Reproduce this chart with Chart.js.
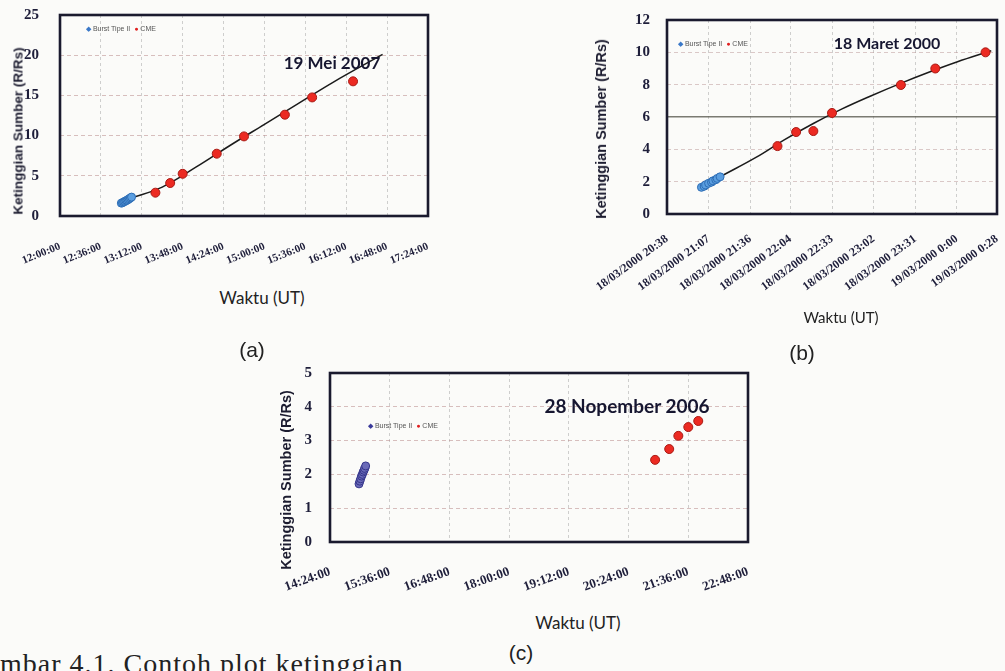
<!DOCTYPE html>
<html>
<head>
<meta charset="utf-8">
<script src="https://cdn.jsdelivr.net/npm/chart.js@4.4.1/dist/chart.umd.min.js"></script>
<style>
  html,body{margin:0;padding:0;background:#fbfbf9;width:1005px;height:671px;overflow:hidden;position:relative;color:#1c1c2c;font-family:"Liberation Sans",Arial,sans-serif}
  .box{position:absolute}
  .t{position:absolute;white-space:nowrap;transform:translate(-50%,-50%)}
  .name{font-family:Lato,"Open Sans",sans-serif;font-weight:700;color:#161630}
  .ytl{font-weight:700;color:#1c1c30;transform:translate(-50%,-50%) rotate(-90deg)}
  .xtl{font-family:Lato,"Open Sans",sans-serif;color:#222}
  .leg{position:absolute;white-space:nowrap;font-size:7px;line-height:10px;color:#555}
  .leg b{font-weight:normal}
  .pl{font-size:21px;color:#222}
  .cap{position:absolute;left:0;top:648px;font-family:"Liberation Serif",serif;font-size:28px;letter-spacing:1px;color:#222;white-space:nowrap}
</style>
</head>
<body>

<div class="box" style="left:0;top:0;width:440px;height:275px"><canvas id="chartA"></canvas></div>
<div class="box" style="left:580px;top:0;width:425px;height:310px"><canvas id="chartB"></canvas></div>
<div class="box" style="left:240px;top:360px;width:520px;height:250px"><canvas id="chartC"></canvas></div>

<!-- (a) -->
<div class="t name" style="left:332px;top:62px;font-size:17px">19 Mei 2007</div>
<div class="leg" style="left:86px;top:24px"><b style="color:#3a78c8">◆</b> Burst Tipe II &nbsp;<b style="color:#e02020">●</b> CME</div>
<div class="t ytl" style="left:18px;top:131px;font-size:13.5px">Ketinggian Sumber (R/Rs)</div>
<div class="t xtl" style="left:262px;top:297px;font-size:17px">Waktu (UT)</div>
<div class="t pl" style="left:252px;top:350px">(a)</div>

<!-- (b) -->
<div class="t name" style="left:887px;top:42px;font-size:16px">18 Maret 2000</div>
<div class="leg" style="left:678px;top:39px"><b style="color:#3a78c8">◆</b> Burst Tipe II &nbsp;<b style="color:#e02020">●</b> CME</div>
<div class="t ytl" style="left:601px;top:129px;font-size:14.5px">Ketinggian Sumber (R/Rs)</div>
<div class="t xtl" style="left:841px;top:317px;font-size:15px">Waktu (UT)</div>
<div class="t pl" style="left:802px;top:353px">(b)</div>

<!-- (c) -->
<div class="t name" style="left:627px;top:405px;font-size:19px">28 Nopember 2006</div>
<div class="leg" style="left:368px;top:421px"><b style="color:#3a3a9a">◆</b> Burst Tipe II &nbsp;<b style="color:#e02020">●</b> CME</div>
<div class="t ytl" style="left:286px;top:480px;font-size:14.5px">Ketinggian Sumber (R/Rs)</div>
<div class="t xtl" style="left:578px;top:622px;font-size:17px">Waktu (UT)</div>
<div class="t pl" style="left:521px;top:653px">(c)</div>

<div class="cap">mbar 4.1. Contoh plot ketinggian</div>

<script>
// ---------- (a) 19 Mei 2007 ----------
const xLabelsA = ["12:00:00","12:36:00","13:12:00","13:48:00","14:24:00","15:00:00","15:36:00","16:12:00","16:48:00","17:24:00"];
const yTicksA = [0,5,10,15,20,25];
const burstTimeA = ["12:54","12:55","12:56","12:57","12:58","12:59","13:00","13:01","13:02","13:03"];
const burstHeightA = [1.6,1.65,1.75,1.8,1.9,1.95,2.05,2.15,2.25,2.35];
const cmeTimeA = ["13:24","13:37","13:48","14:18","14:42","15:18","15:42","16:18"];
const cmeHeightA = [2.9,4.1,5.25,7.75,9.9,12.6,14.75,16.75];
const fitTimeA = ["13:02","13:30","14:00","14:30","15:00","15:30","16:00","16:44"];
const fitHeightA = [2.2,3.6,6.1,8.8,11.4,14.0,16.6,20.1];

// ---------- (b) 18 Maret 2000 ----------
const xLabelsB = ["18/03/2000 20:38","18/03/2000 21:07","18/03/2000 21:36","18/03/2000 22:04","18/03/2000 22:33",
                  "18/03/2000 23:02","18/03/2000 23:31","19/03/2000 0:00","19/03/2000 0:28"];
const yTicksB = [0,2,4,6,8,10,12];
const burstTimeB = ["21:02","21:04","21:05","21:07","21:09","21:10","21:12","21:13","21:15"];
const burstHeightB = [1.65,1.72,1.8,1.9,1.97,2.05,2.12,2.2,2.3];
const cmeTimeB = ["21:55","22:08","22:20","22:33","23:21","23:45","00:20"];
const cmeHeightB = [4.2,5.07,5.13,6.25,7.98,9.0,10.0];
const fitTimeB = ["21:16","21:40","22:00","22:20","22:40","23:00","23:20","23:40","00:00","00:24"];
const fitHeightB = [2.35,3.5,4.6,5.6,6.5,7.3,8.05,8.75,9.4,10.1];

// ---------- (c) 28 Nopember 2006 ----------
const xLabelsC = ["14:24:00","15:36:00","16:48:00","18:00:00","19:12:00","20:24:00","21:36:00","22:48:00"];
const yTicksC = [0,1,2,3,4,5];
const burstTimeC = ["14:59","15:00","15:01","15:02","15:03","15:04","15:05","15:06","15:07"];
const burstHeightC = [1.72,1.8,1.87,1.95,2.0,2.07,2.12,2.18,2.25];
const cmeTimeC = ["20:56","21:13","21:24","21:36","21:48"];
const cmeHeightC = [2.43,2.75,3.14,3.4,3.58];

// time text -> minutes of day (19/03 adds a day)
function toMin(t){
  const parts = t.trim().split(" ");
  const [h,m,s] = parts[parts.length-1].split(":").map(Number);
  let v = h*60 + m + (s||0)/60;
  if(parts.length>1 && parts[0].startsWith("19/")) v += 1440;
  return v;
}
const lateNight = t => { const v = toMin(t); return v < 720 ? v + 1440 : v; };
const pts = (ts, ys, f) => ts.map((t,i)=>({x:(f||toMin)(t), y:ys[i]}));

// thick box around the plot area
const frame = {
  id:"frame",
  beforeDatasetsDraw(c){
    const a = c.chartArea, ctx = c.ctx;
    ctx.save();
    ctx.strokeStyle = "#1a1a2e";
    ctx.lineWidth = 2.6;
    ctx.strokeRect(a.left, a.top, a.right-a.left, a.bottom-a.top);
    ctx.restore();
  }
};

const burstSet = (data, fill, edge) => ({data, pointRadius:4, backgroundColor:fill, borderColor:edge, borderWidth:1, order:2});
const cmeSet = data => ({data, pointRadius:4.5, backgroundColor:"#ec2a22", borderColor:"#a81a14", borderWidth:1, order:1});
const fitSet = data => ({data, showLine:true, pointRadius:0, borderColor:"#1b1b1b", borderWidth:1.5, tension:0.4, fill:false, order:3});

function makeChart(id, cfg){
  const xVals = cfg.xLabels.map(cfg.parse || toMin);
  const yT = cfg.yTicks;
  return new Chart(document.getElementById(id), {
    type:"scatter",
    data:{datasets:cfg.datasets},
    options:{
      responsive:true, maintainAspectRatio:false, animation:false,
      layout:{padding:cfg.pad, autoPadding:false},
      plugins:{legend:{display:false}, tooltip:{enabled:false}},
      scales:{
        x:{
          type:"linear", min:xVals[0], max:xVals[xVals.length-1],
          afterBuildTicks: s => { s.ticks = xVals.map(v=>({value:v})); },
          afterFit: s => { s.height = cfg.xH; s.paddingLeft = 0; s.paddingRight = 0; },
          ticks:{autoSkip:false, minRotation:cfg.rot, maxRotation:cfg.rot, padding:cfg.xPad, color:"#1e1e3a",
                 font:{family:"Liberation Serif", size:cfg.xFont, weight:"bold"},
                 callback:(v,i)=>cfg.xLabels[i]},
          grid:{color:"rgba(150,150,150,0.45)", drawTicks:false},
          border:{display:false, dash:[3,3]}
        },
        y:{
          min:yT[0], max:yT[yT.length-1],
          afterFit: s => { s.width = cfg.yW; s.paddingTop = 0; s.paddingBottom = 0; },
          ticks:{stepSize:yT[1]-yT[0], padding:cfg.yPad, color:"#1e1e3a",
                 font:{family:"Liberation Serif", size:15, weight:"bold"}},
          grid:{color: cfg.yGrid || "rgba(185,140,140,0.55)", lineWidth: cfg.yGridW || 1, drawTicks:false},
          border:{display:false, dash: cfg.yDash || [4,3]}
        }
      }
    },
    plugins:[frame]
  });
}

makeChart("chartA", {
  xLabels:xLabelsA, yTicks:yTicksA, rot:22, xFont:11, xPad:24, xH:59, yW:60, yPad:21,
  pad:{top:15, right:12, left:0, bottom:0},
  datasets:[
    burstSet(pts(burstTimeA, burstHeightA), "#5a9ee0", "#2e6db4"),
    cmeSet(pts(cmeTimeA, cmeHeightA)),
    fitSet(pts(fitTimeA, fitHeightA))
  ]
});

makeChart("chartB", {
  xLabels:xLabelsB, yTicks:yTicksB, rot:36, xFont:12, xPad:18, xH:96, yW:87, yPad:17,
  pad:{top:20, right:8, left:0, bottom:0},
  yGrid: c => c.tick && c.tick.value===6 ? "rgba(90,90,80,0.8)" : "rgba(185,150,150,0.5)",
  yGridW: c => c.tick && c.tick.value===6 ? 1.4 : 1,
  yDash: c => c.tick && c.tick.value===6 ? [] : [4,3],
  datasets:[
    burstSet(pts(burstTimeB, burstHeightB, lateNight), "#5a9ee0", "#2e6db4"),
    cmeSet(pts(cmeTimeB, cmeHeightB, lateNight)),
    fitSet(pts(fitTimeB, fitHeightB, lateNight))
  ]
});

makeChart("chartC", {
  xLabels:xLabelsC, yTicks:yTicksC, rot:20, xFont:13, xPad:22, xH:68, yW:90, yPad:18,
  pad:{top:13, right:12, left:0, bottom:0},
  datasets:[
    burstSet(pts(burstTimeC, burstHeightC), "#6a6ab8", "#35358a"),
    cmeSet(pts(cmeTimeC, cmeHeightC))
  ]
});
</script>
</body>
</html>
